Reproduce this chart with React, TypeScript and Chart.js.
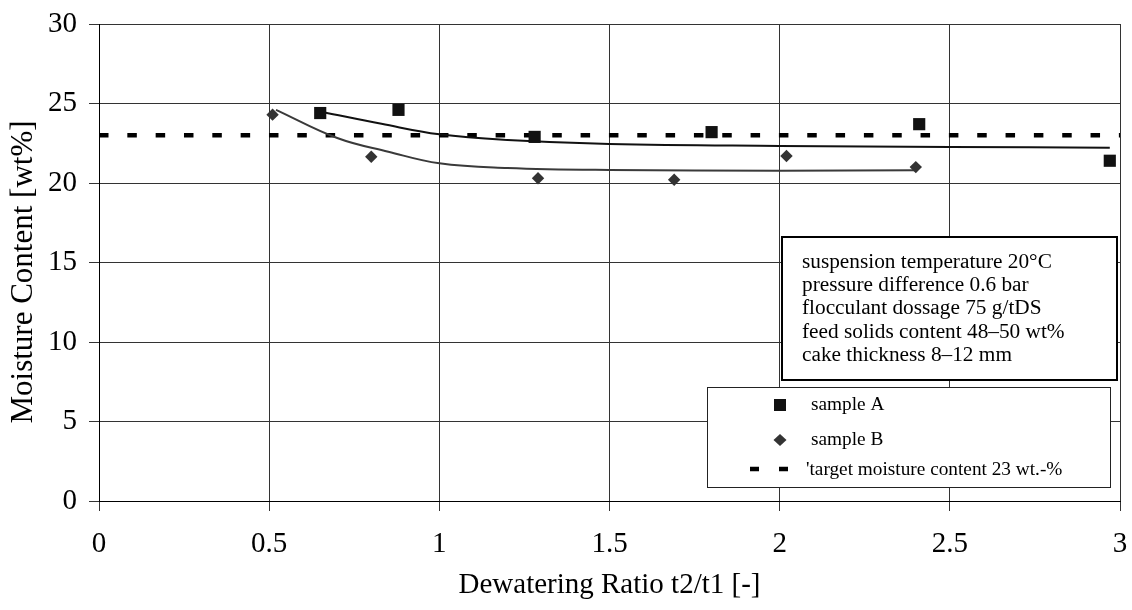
import React, { useEffect, useRef } from 'react';
import { Chart, registerables } from 'chart.js';

Chart.register(...registerables);

// ---- data ----
const sampleAX = [0.65, 0.88, 1.28, 1.8, 2.41, 2.97];
const sampleAY = [24.4, 24.6, 22.9, 23.2, 23.7, 21.4];
const sampleBX = [0.51, 0.8, 1.29, 1.69, 2.02, 2.4];
const sampleBY = [24.3, 21.65, 20.3, 20.2, 21.7, 21.0];
const trendAX = [0.66, 0.83, 1.0, 1.2, 1.5, 2.0, 2.5, 2.97];
const trendAY = [24.45, 23.72, 23.06, 22.7, 22.45, 22.33, 22.27, 22.22];
const trendBX = [0.52, 0.7, 0.85, 1.0, 1.2, 1.5, 2.0, 2.4];
const trendBY = [24.6, 22.83, 21.97, 21.24, 20.95, 20.82, 20.77, 20.8];
const targetX = [0, 3];
const targetY = [23, 23];
const xTicks = [0, 0.5, 1, 1.5, 2, 2.5, 3];
const yTicks = [0, 5, 10, 15, 20, 25, 30];
const infoLines = [
  'suspension temperature 20°C',
  'pressure difference 0.6 bar',
  'flocculant dossage 75 g/tDS',
  'feed solids content 48–50 wt%',
  'cake thickness 8–12 mm',
];
const legendLabels = ['sample A', 'sample B', "'target moisture content 23 wt.-%"];
const xTitle = 'Dewatering Ratio t2/t1 [-]';
const yTitle = 'Moisture Content [wt%]';

const FONT = "'Liberation Serif', 'Times New Roman', serif";

const pts = (xs: number[], ys: number[]) => xs.map((x, i) => ({ x, y: ys[i] }));

const boxesPlugin = {
  id: 'boxes',
  afterDraw(chart: any) {
    const ctx = chart.ctx as CanvasRenderingContext2D;
    ctx.save();
    // y axis title
    ctx.save();
    ctx.translate(24, 272);
    ctx.rotate(-Math.PI / 2);
    ctx.fillStyle = '#000';
    ctx.font = `31px ${FONT}`;
    ctx.textAlign = 'center';
    ctx.textBaseline = 'middle';
    ctx.fillText(yTitle, 0, 0);
    ctx.restore();

    // info box
    ctx.fillStyle = '#fff';
    ctx.fillRect(782, 237, 335, 143);
    ctx.strokeStyle = '#000';
    ctx.lineWidth = 2;
    ctx.strokeRect(782, 237, 335, 143);
    ctx.fillStyle = '#000';
    ctx.font = `21.3px ${FONT}`;
    ctx.textBaseline = 'middle';
    ctx.textAlign = 'left';
    infoLines.forEach((t, i) => ctx.fillText(t, 802, 262 + i * 23.3));

    // legend box
    ctx.fillStyle = '#fff';
    ctx.fillRect(707.5, 387.5, 403, 100);
    ctx.lineWidth = 1;
    ctx.strokeStyle = '#222';
    ctx.strokeRect(707.5, 387.5, 403, 100);

    // sample A marker
    ctx.fillStyle = '#111';
    ctx.fillRect(774, 399, 12, 12);
    // sample B marker
    ctx.fillStyle = '#333';
    ctx.beginPath();
    ctx.moveTo(780, 434);
    ctx.lineTo(786.5, 440);
    ctx.lineTo(780, 446);
    ctx.lineTo(773.5, 440);
    ctx.closePath();
    ctx.fill();
    // target marker
    ctx.strokeStyle = '#000';
    ctx.lineWidth = 4.5;
    ctx.setLineDash([9, 20]);
    ctx.beginPath();
    ctx.moveTo(750, 469);
    ctx.lineTo(789, 469);
    ctx.stroke();
    ctx.setLineDash([]);

    ctx.fillStyle = '#000';
    ctx.font = `19.3px ${FONT}`;
    ctx.fillText(legendLabels[0], 811, 405);
    ctx.fillText(legendLabels[1], 811, 440);
    ctx.fillText(legendLabels[2], 806, 470);
    ctx.restore();
  },
};

export default function App() {
  const ref = useRef<HTMLCanvasElement | null>(null);

  useEffect(() => {
    if (!ref.current) return;
    const chart = new Chart(ref.current, {
      type: 'scatter',
      data: {
        datasets: [
          {
            label: legendLabels[0],
            data: pts(sampleAX, sampleAY),
            pointStyle: 'rect',
            pointRadius: 8.6,
            backgroundColor: '#111',
            borderColor: '#111',
            borderWidth: 0,
            showLine: false,
          },
          {
            label: legendLabels[1],
            data: pts(sampleBX, sampleBY),
            pointStyle: 'rectRot',
            pointRadius: 6.2,
            backgroundColor: '#333',
            borderColor: '#333',
            borderWidth: 0,
            showLine: false,
          },
          {
            label: 'trend A',
            data: pts(trendAX, trendAY),
            showLine: true,
            pointRadius: 0,
            borderColor: '#111',
            borderWidth: 2,
            tension: 0.4,
          },
          {
            label: 'trend B',
            data: pts(trendBX, trendBY),
            showLine: true,
            pointRadius: 0,
            borderColor: '#3a3a3a',
            borderWidth: 2,
            tension: 0.4,
          },
          {
            label: legendLabels[2],
            data: pts(targetX, targetY),
            showLine: true,
            pointRadius: 0,
            borderColor: '#000',
            borderWidth: 4.5,
            borderDash: [9.5, 18.83],
            borderCapStyle: 'butt',
          },
        ],
      } as any,
      options: {
        responsive: false,
        animation: false,
        layout: { padding: { top: 24, right: 12, left: 0, bottom: 0 } },
        plugins: {
          legend: { display: false },
          tooltip: { enabled: false },
        },
        scales: {
          x: {
            type: 'linear',
            min: 0,
            max: 3,
            afterBuildTicks: (s: any) => {
              s.ticks = xTicks.map((v) => ({ value: v }));
            },
            afterFit: (s: any) => {
              s.height = 109;
              s.paddingLeft = 0;
              s.paddingRight = 0;
            },
            ticks: {
              color: '#000',
              font: { family: FONT, size: 29 },
              padding: 16,
              maxRotation: 0,
              autoSkip: false,
              callback: (v: any) => String(v),
            },
            grid: { color: '#333', lineWidth: 1, tickLength: 10, drawTicks: true },
            border: { display: true, color: '#000', width: 1 },
            title: {
              display: true,
              text: xTitle,
              color: '#000',
              font: { family: FONT, size: 29 },
              padding: { top: 0, bottom: 7 },
            },
          },
          y: {
            type: 'linear',
            min: 0,
            max: 30,
            afterBuildTicks: (s: any) => {
              s.ticks = yTicks.map((v) => ({ value: v }));
            },
            afterFit: (s: any) => {
              s.width = 99;
              s.paddingTop = 0;
              s.paddingBottom = 0;
            },
            ticks: {
              color: '#000',
              font: { family: FONT, size: 29 },
              padding: 12,
              autoSkip: false,
              callback: (v: any) => String(v),
            },
            grid: { color: '#333', lineWidth: 1, tickLength: 10, drawTicks: true },
            border: { display: true, color: '#000', width: 1 },
            title: { display: false },
          },
        },
      } as any,
      plugins: [boxesPlugin],
    });
    return () => chart.destroy();
  }, []);

  return (
    <div style={{ position: 'absolute', left: 0, top: 0, width: 1132, height: 610, background: '#fff' }}>
      <canvas ref={ref} width={1132} height={610} style={{ display: 'block', width: 1132, height: 610 }} />
    </div>
  );
}
